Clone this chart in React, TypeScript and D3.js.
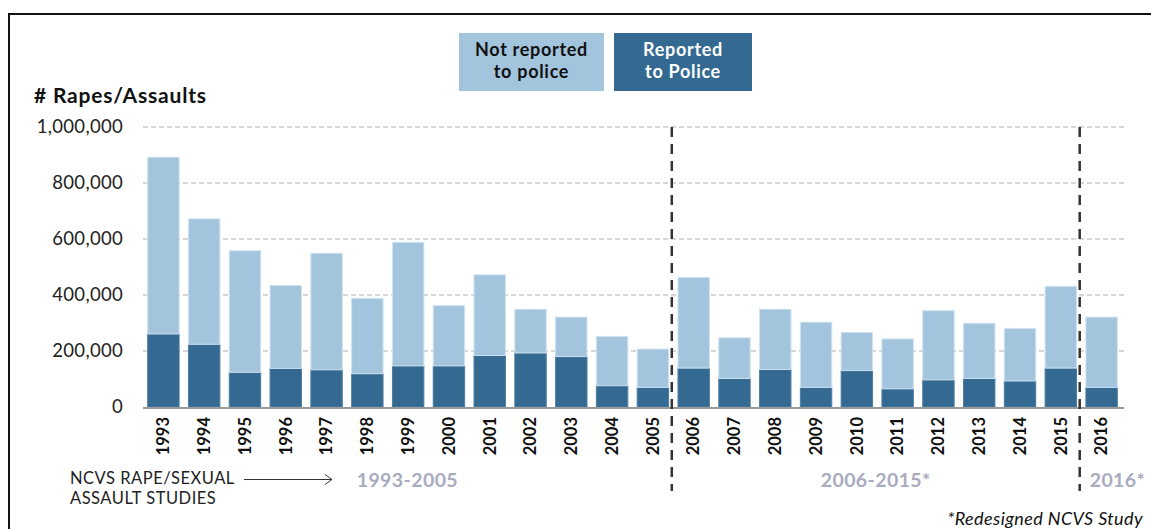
import React, { useEffect, useRef } from "react";
import * as d3 from "d3";

const years = [
	"1993", "1994", "1995", "1996", "1997", "1998", "1999", "2000",
	"2001", "2002", "2003", "2004", "2005", "2006", "2007", "2008",
	"2009", "2010", "2011", "2012", "2013", "2014", "2015", "2016"
];
const reported = [
	261000, 224000, 124000, 138000, 133000, 119000, 147000, 147000,
	184000, 193000, 180000, 76000, 70000, 139000, 102000, 134000,
	70000, 130000, 65000, 97000, 102000, 93000, 139000, 70000
];
const notReported = [
	631000, 448000, 434000, 296000, 416000, 269000, 441000, 215000,
	288000, 156000, 141000, 176000, 137000, 324000, 145000, 215000,
	233000, 136000, 178000, 247000, 197000, 187000, 292000, 251000
];
const yTicks = [0, 200000, 400000, 600000, 800000, 1000000];
// study periods: first year, last year, label
const periods = [
	{ from: "1993", to: "2005", label: "1993-2005" },
	{ from: "2006", to: "2015", label: "2006-2015*" },
	{ from: "2016", to: "2016", label: "2016*" }
];
const legendItems = [
	{ key: "notReported", lines: ["Not reported", "to police"] },
	{ key: "reported", lines: ["Reported", "to Police"] }
];

const WIDTH = 1151;
const HEIGHT = 529;
const FONT = "Lato, 'Open Sans', sans-serif";
const colors = { reported: "#346a91", notReported: "#a2c4dd" };

export default function App() {
	const ref = useRef<SVGSVGElement>(null);

	useEffect(() => {
		const svg = d3.select(ref.current);
		svg.selectAll("*").remove();

		const margin = { left: 143, right: 29, top: 127, bottom: 122 };
		const x = d3
			.scaleBand()
			.domain(years)
			.range([margin.left, WIDTH - margin.right])
			.paddingInner(0.23)
			.paddingOuter(0.115);
		const y = d3
			.scaleLinear()
			.domain([0, 1000000])
			.range([HEIGHT - margin.bottom, margin.top]);

		//frame (top and left edges visible)
		svg.append("path")
			.attr("d", `M9,${HEIGHT} V14 H${WIDTH}`)
			.attr("fill", "none")
			.attr("stroke", "#111")
			.attr("stroke-width", 2);

		//gridlines
		svg.append("g")
			.selectAll("line")
			.data(yTicks.filter(t => t > 0))
			.join("line")
			.attr("x1", margin.left)
			.attr("x2", WIDTH - 26)
			.attr("y1", d => y(d))
			.attr("y2", d => y(d))
			.attr("stroke", "#c9c9c9")
			.attr("stroke-width", 1.5)
			.attr("stroke-dasharray", "5,3");

		//y axis labels
		const yAxis = d3
			.axisLeft(y)
			.tickValues(yTicks)
			.tickSize(0)
			.tickPadding(20)
			.tickFormat(d3.format(","));
		const gy = svg
			.append("g")
			.attr("transform", `translate(${margin.left},0)`)
			.call(yAxis);
		gy.select(".domain").remove();
		gy.selectAll("text")
			.attr("font-family", FONT)
			.attr("font-size", 18.5)
			.attr("letter-spacing", 0.3)
			.attr("fill", "#222");

		svg.append("text")
			.attr("x", 34)
			.attr("y", 103)
			.attr("font-family", FONT)
			.attr("font-weight", "bold")
			.attr("font-size", 21)
			.attr("letter-spacing", 0.8)
			.attr("fill", "#111")
			.text("# Rapes/Assaults");

		//stacked bars
		const table = years.map((yr, i) => ({
			year: yr,
			reported: reported[i],
			notReported: notReported[i]
		}));
		const series = d3.stack<any>().keys(["reported", "notReported"])(table);
		svg.append("g")
			.selectAll("g")
			.data(series)
			.join("g")
			.attr("fill", d => colors[d.key])
			.attr("stroke", d => (d.key === "notReported" ? "#cfe2ef" : "#4d7ea2"))
			.attr("stroke-width", 1)
			.selectAll("rect")
			.data(d => d)
			.join("rect")
			.attr("x", d => x(d.data.year))
			.attr("width", x.bandwidth())
			.attr("y", d => y(d[1]))
			.attr("height", d => y(d[0]) - y(d[1]));

		//baseline
		svg.append("line")
			.attr("x1", margin.left)
			.attr("x2", WIDTH - 27)
			.attr("y1", y(0) + 1)
			.attr("y2", y(0) + 1)
			.attr("stroke", "#999")
			.attr("stroke-width", 2);

		//year labels
		const xAxis = d3.axisBottom(x).tickSize(0).tickPadding(0);
		const gx = svg
			.append("g")
			.attr("transform", `translate(0,${y(0)})`)
			.call(xAxis);
		gx.select(".domain").remove();
		gx.selectAll("text")
			.attr("font-family", FONT)
			.attr("font-weight", "bold")
			.attr("font-size", 16.5)
			.attr("fill", "#111")
			.attr("text-anchor", "end")
			.attr("dy", "0.35em")
			.attr("transform", "translate(0,10) rotate(-90)");

		//period dividers and labels
		const half = (x.step() * x.paddingInner()) / 2;
		periods.forEach((p, i) => {
			const x0 = i === 0 ? margin.left : x(p.from) - half - 1.5;
			const x1 = x(p.to) + x.bandwidth() + half - 1.5;
			if (i > 0) {
				svg.append("line")
					.attr("x1", x0)
					.attr("x2", x0)
					.attr("y1", margin.top)
					.attr("y2", 491)
					.attr("stroke", "#333")
					.attr("stroke-width", 2.5)
					.attr("stroke-dasharray", "10,7");
			}
			const last = i === periods.length - 1;
			svg.append("text")
				.attr("x", last ? x0 + 10 : (x0 + x1) / 2)
				.attr("y", 487)
				.attr("text-anchor", last ? "start" : "middle")
				.attr("font-family", FONT)
				.attr("font-weight", "bold")
				.attr("font-size", 19.5)
				.attr("letter-spacing", 0.4)
				.attr("fill", "#a9abbf")
				.text(p.label);
		});

		//study note with arrow
		const note = svg
			.append("text")
			.attr("font-family", FONT)
			.attr("font-size", 16.5)
			.attr("letter-spacing", 0.5)
			.attr("fill", "#222");
		note.append("tspan").attr("x", 70).attr("y", 484).text("NCVS RAPE/SEXUAL");
		note.append("tspan").attr("x", 70).attr("y", 504).text("ASSAULT STUDIES");
		svg.append("path")
			.attr("d", "M244,479.5 H332 M325,474.5 L332,479.5 L325,484.5")
			.attr("fill", "none")
			.attr("stroke", "#333")
			.attr("stroke-width", 1);

		svg.append("text")
			.attr("x", 1143)
			.attr("y", 525)
			.attr("text-anchor", "end")
			.attr("font-family", FONT)
			.attr("font-style", "italic")
			.attr("font-size", 18)
			.attr("letter-spacing", 0.4)
			.attr("fill", "#111")
			.text("*Redesigned NCVS Study");

		//legend boxes
		const boxes = [
			{ x: 459, w: 145 },
			{ x: 614, w: 138 }
		];
		legendItems.forEach((item, i) => {
			const b = boxes[i];
			const g = svg.append("g");
			g.append("rect")
				.attr("x", b.x)
				.attr("y", 33)
				.attr("width", b.w)
				.attr("height", 58)
				.attr("fill", colors[item.key]);
			item.lines.forEach((ln, j) => {
				g.append("text")
					.attr("x", b.x + b.w / 2)
					.attr("y", 56 + j * 22)
					.attr("text-anchor", "middle")
					.attr("font-family", FONT)
					.attr("font-weight", "bold")
					.attr("font-size", 18)
					.attr("letter-spacing", 0.7)
					.attr("fill", item.key === "reported" ? "#fff" : "#111")
					.text(ln);
			});
		});
	}, []);

	return (
		<svg
			ref={ref}
			width={WIDTH}
			height={HEIGHT}
			style={{ position: "absolute", left: 0, top: 0, background: "#fff" }}
		/>
	);
}
